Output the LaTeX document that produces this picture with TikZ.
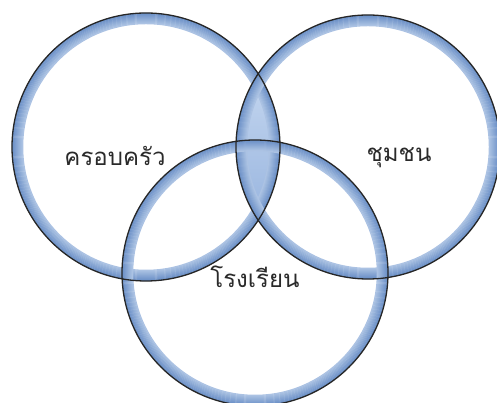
\documentclass[tikz,border=0pt]{standalone}
\usepackage{fontspec}
\newfontfamily\thaifont[Script=Thai]{Loma}
\definecolor{rimdark}{HTML}{6A8FC6}
\definecolor{rimlight}{HTML}{D6E4F6}
\definecolor{lensblue}{HTML}{86A7D8}
\definecolor{labelgray}{HTML}{2A2A2A}
\tikzset{
  setlabel/.style={font=\thaifont\fontsize{24}{28}\selectfont,text=labelgray,inner sep=0pt},
  rimline/.style={line width=1.3pt},
  outline/.style={draw=black!85,line width=1.3pt}
}
\begin{document}
\begin{tikzpicture}[x=1pt,y=1pt]
\useasboundingbox (0,0) rectangle (497,403);
% centres of the three circles
\coordinate (fam) at (146,256);
\coordinate (comm) at (368,256);
\coordinate (school) at (255,130);
% the lens between family and community
\begin{scope}
\clip (fam) circle (134pt);
\shade[top color=rimlight,bottom color=lensblue] (comm) circle (132pt);
\end{scope}
% glassy rims
\foreach \c/\r in {fam/134,comm/132,school/133}{
  \foreach \i in {0,...,10}{
    \pgfmathtruncatemacro{\mix}{100-\i*6}
    \draw[rimline,draw=rimdark!\mix!rimlight] (\c) circle ({\r-\i-0.6});
  }
}
% dark outlines on top
\draw[outline] (fam) circle (134pt);
\draw[outline] (comm) circle (132pt);
\draw[outline] (school) circle (133pt);
% labels
\node[setlabel] (famlabel) at (115,247) {ครอบครัว};
\node[setlabel] (commlabel) at (399,245) {ชุมชน};
\node[setlabel] (schoollabel) at (255,126) {โรงเรียน};
\end{tikzpicture}
\end{document}
